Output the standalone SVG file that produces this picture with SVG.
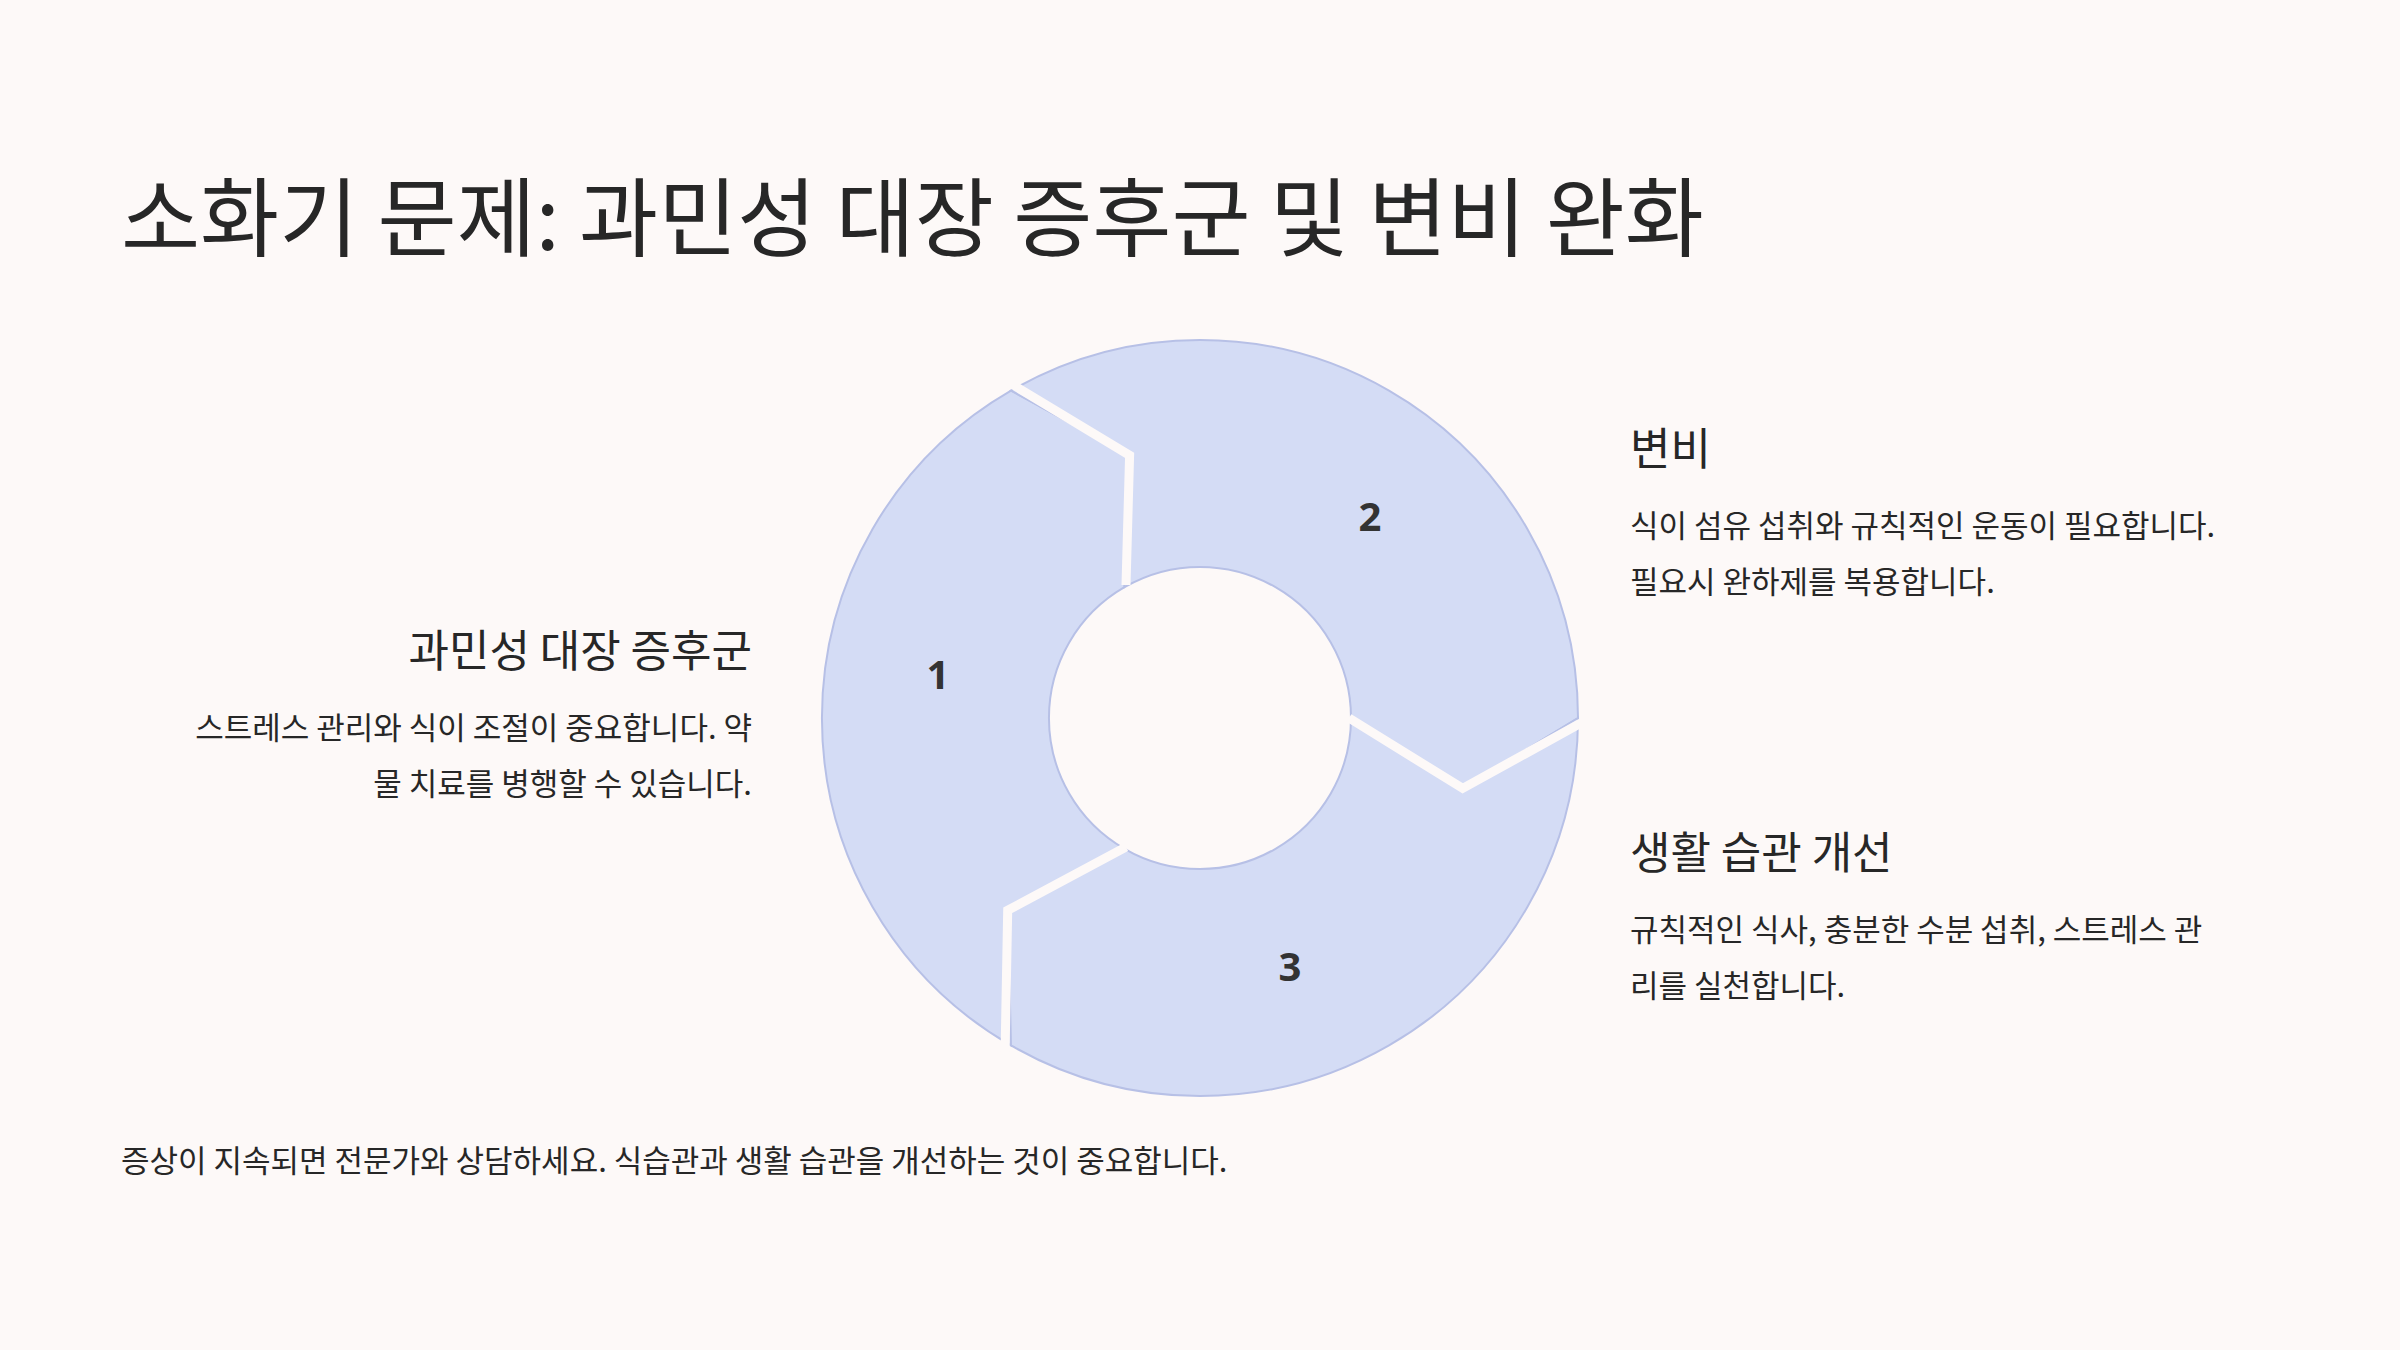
<svg xmlns="http://www.w3.org/2000/svg" width="2400" height="1350" viewBox="0 0 2400 1350">
<style>
text{font-family:"Noto Sans CJK KR","Noto Sans",sans-serif;fill:#272727}
.seg{fill:#d4dcf5;stroke:#b7c0e6;stroke-width:2}
.gap{fill:none;stroke:#fdf9f8;stroke-width:9;stroke-linejoin:miter}
.num{font-family:"Open Sans","Noto Sans",sans-serif;font-weight:700;font-size:40px;fill:#333;text-anchor:middle}
.h{font-size:44px}
.b{font-size:31px}
</style>
<rect width="2400" height="1350" fill="#fdf9f8"/>
<text x="121" y="250" font-size="86">소화기 문제: 과민성 대장 증후군 및 변비 완화</text>
<g id="segment1"><path class="seg" d="M1011,1045.4 A378,378 0 0 1 1011,390.6 L1129.6,455.3 L1124.5,587.2 A151,151 0 0 0 1124.5,848.8 L1007.7,910.3 Z"/><text class="num" x="938" y="689">1</text></g>
<g id="segment2"><path class="seg" d="M1011,390.6 A378,378 0 0 1 1578,718 L1462.7,788.4 L1351,718 A151,151 0 0 0 1124.5,587.2 L1129.6,455.3 Z"/><text class="num" x="1370" y="531">2</text></g>
<g id="segment3"><path class="seg" d="M1578,718 A378,378 0 0 1 1011,1045.4 L1007.7,910.3 L1124.5,848.8 A151,151 0 0 0 1351,718 L1462.7,788.4 Z"/><text class="num" x="1290" y="981">3</text></g>
<g id="connectors">
<polyline class="gap" points="1005,380 1129.6,455.3 1126,585"/>
<polyline class="gap" points="1590,718 1462.7,788.4 1349,718"/>
<polyline class="gap" points="1005,1056 1007.7,910.3 1126,847"/>
</g>
<g id="ibs" text-anchor="end"><text class="h" x="752" y="667">과민성 대장 증후군</text><text class="b" x="752" y="739">스트레스 관리와 식이 조절이 중요합니다. 약</text><text class="b" x="752" y="795">물 치료를 병행할 수 있습니다.</text></g>
<g id="constipation"><text class="h" x="1630" y="465">변비</text><text class="b" x="1630" y="537">식이 섬유 섭취와 규칙적인 운동이 필요합니다.</text><text class="b" x="1630" y="593">필요시 완하제를 복용합니다.</text></g>
<g id="lifestyle"><text class="h" x="1630" y="869">생활 습관 개선</text><text class="b" x="1630" y="941">규칙적인 식사, 충분한 수분 섭취, 스트레스 관</text><text class="b" x="1630" y="997">리를 실천합니다.</text></g>
<text class="b" x="121" y="1172">증상이 지속되면 전문가와 상담하세요. 식습관과 생활 습관을 개선하는 것이 중요합니다.</text>
</svg>
